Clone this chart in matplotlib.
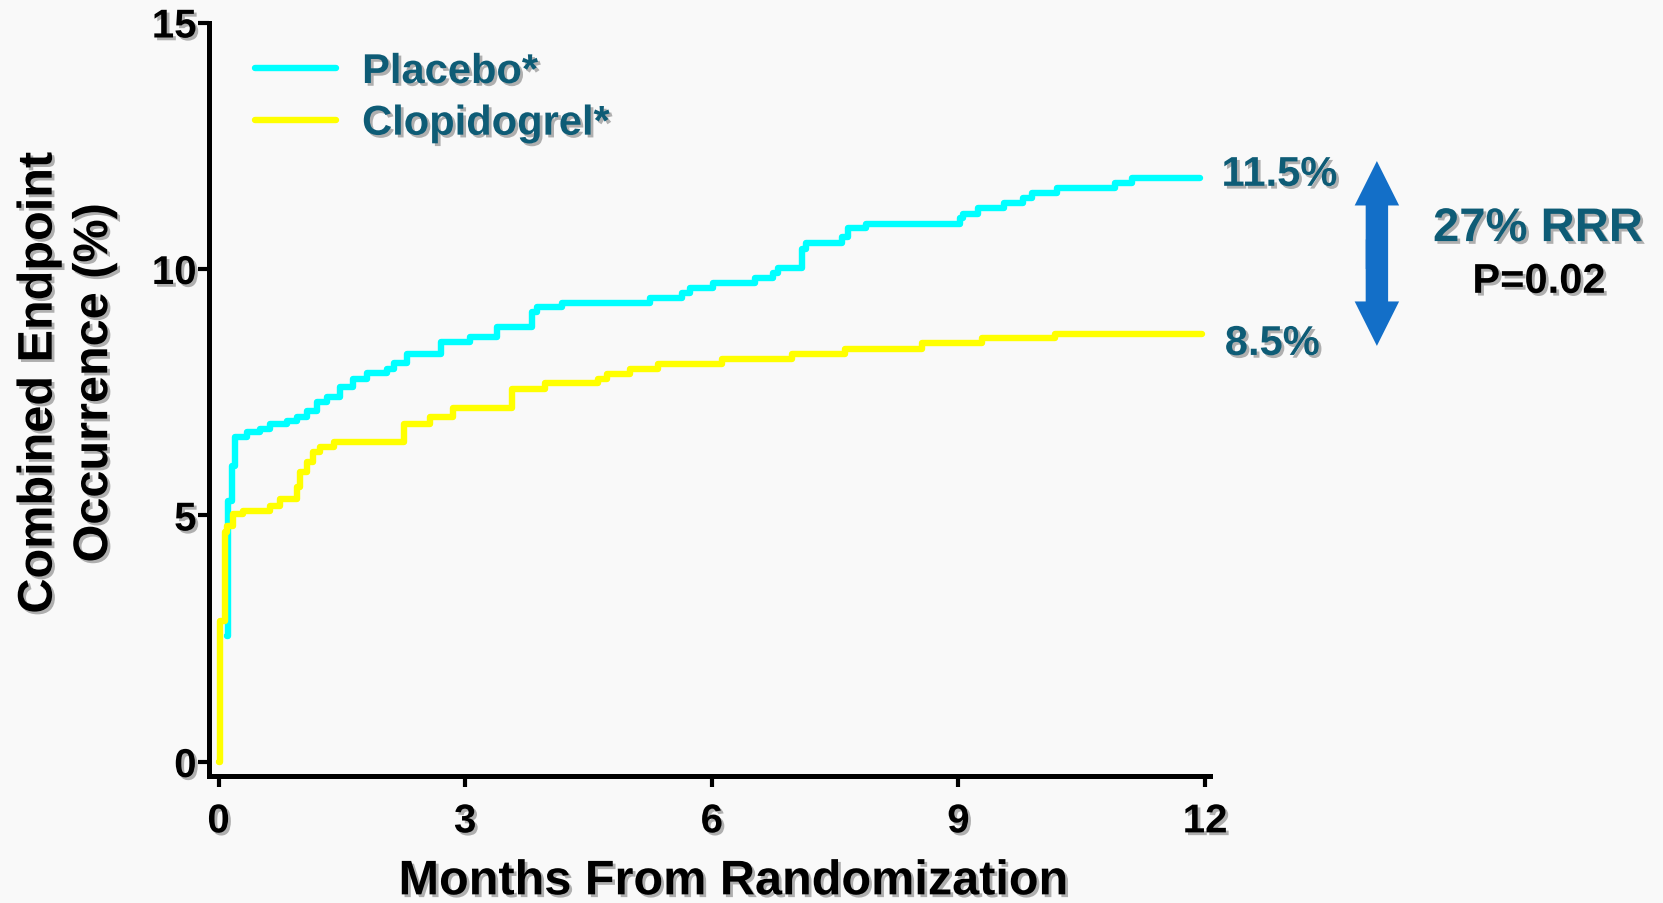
import matplotlib
matplotlib.use("Agg")
import matplotlib.pyplot as plt
import matplotlib.patheffects as pe
from matplotlib.patches import FancyArrowPatch

# Kaplan-Meier style step data (months, % with event)
placebo_t = [0.1, 0.12, 0.16, 0.2, 0.35, 0.5, 0.63, 0.83, 0.95, 1.08, 1.2, 1.32,
             1.48, 1.64, 1.8, 2.05, 2.13, 2.29, 2.71, 3.06, 3.39, 3.81, 3.87,
             4.18, 5.25, 5.64, 5.74, 6.02, 6.53, 6.75, 6.81, 7.1, 7.14, 7.58,
             7.66, 7.87, 9.02, 9.06, 9.24, 9.55, 9.79, 9.9, 10.2, 10.9, 11.11,
             11.94]
placebo_v = [2.56, 5.3, 6.0, 6.59, 6.69, 6.75, 6.86, 6.92, 7.0, 7.12, 7.3, 7.4,
             7.6, 7.77, 7.9, 7.97, 8.1, 8.28, 8.52, 8.62, 8.82, 9.13, 9.23,
             9.31, 9.41, 9.51, 9.61, 9.72, 9.82, 9.92, 10.02, 10.4, 10.53, 10.65,
             10.83, 10.91, 11.03, 11.12, 11.24, 11.34, 11.44, 11.54, 11.64, 11.74,
             11.85, 11.85]

clopi_t = [0, 0.02, 0.08, 0.1, 0.18, 0.3, 0.63, 0.75, 0.95, 0.99, 1.07, 1.15,
           1.23, 1.4, 2.25, 2.57, 2.85, 3.57, 3.97, 4.62, 4.73, 5.0, 5.35, 6.13,
           6.98, 7.62, 8.56, 9.29, 10.18, 11.96]
clopi_v = [0, 2.86, 4.67, 4.79, 5.03, 5.09, 5.19, 5.33, 5.58, 5.88, 6.08, 6.29,
           6.39, 6.49, 6.86, 7.0, 7.18, 7.57, 7.69, 7.77, 7.87, 7.97, 8.07, 8.17,
           8.28, 8.38, 8.50, 8.60, 8.68, 8.68]

series_names = ["Placebo*", "Clopidogrel*"]
end_labels = ["11.5%", "8.5%"]
rrr_text = "27% RRR"
p_text = "P=0.02"
x_ticks = [0, 3, 6, 9, 12]
y_ticks = [0, 5, 10, 15]

teal = "#0e5c76"
arrow_blue = "#136fc8"
shadow = [pe.withSimplePatchShadow(offset=(2, -2), shadow_rgbFace="#555555", alpha=0.45)]

plt.rcParams["font.family"] = ["Liberation Sans", "DejaVu Sans"]
plt.rcParams["font.weight"] = "bold"

fig = plt.figure(figsize=(16.63, 9.04), dpi=100, facecolor="#f9f9f9")
ax = fig.add_axes([0.1257, 0.1405, 0.6019, 0.8335])
ax.set_facecolor("none")

ax.plot(placebo_t, placebo_v, drawstyle="steps-post", color="#00ffff", lw=4.6,
        label=series_names[0], solid_capstyle="round")
ax.plot(clopi_t, clopi_v, drawstyle="steps-post", color="#ffff00", lw=4.6,
        label=series_names[1], solid_capstyle="round")

ax.set_xlim(-0.1156, 12.06)
ax.set_ylim(-0.284, 15.0)
ax.set_xticks(x_ticks)
ax.set_yticks(y_ticks)
for s in ["top", "right"]:
    ax.spines[s].set_visible(False)
for s in ["left", "bottom"]:
    ax.spines[s].set_linewidth(3.6)
ax.tick_params(axis="both", direction="out", length=8, width=3, labelsize=29)
ax.tick_params(axis="y", pad=1)
ax.tick_params(axis="x", pad=11)
for lab in ax.get_xticklabels() + ax.get_yticklabels():
    lab.set_fontweight("bold")
    lab.set_path_effects(shadow)

xl = ax.set_xlabel("Months From Randomization", fontsize=35, fontweight="bold", va="center")
ax.xaxis.set_label_coords(0.5235, -0.1405)
yl = ax.set_ylabel("Combined Endpoint\nOccurrence (%)", fontsize=35, fontweight="bold",
                   va="center", ha="center", linespacing=1.3)
ax.yaxis.set_label_coords(-0.142, 0.5216)
xl.set_path_effects(shadow)
yl.set_path_effects(shadow)

leg = ax.legend(loc="upper left", bbox_to_anchor=(255 / 1663, 1 - 53 / 904),
                bbox_transform=fig.transFigure, frameon=False,
                handlelength=1.95, handletextpad=0.62, labelspacing=0.28,
                borderpad=0, borderaxespad=0, labelcolor=teal,
                prop={"weight": "bold", "size": 30})
for t in leg.get_texts():
    t.set_path_effects(shadow)

# end-of-curve percentages
ax.text(12.2, placebo_v[-1] + 0.06, end_labels[0], color=teal, fontsize=30,
        fontweight="bold", ha="left", va="center", clip_on=False, path_effects=shadow)
ax.text(12.24, clopi_v[-1] - 0.2, end_labels[1], color=teal, fontsize=30,
        fontweight="bold", ha="left", va="center", clip_on=False, path_effects=shadow)

# double-headed arrow between the two end points: a shaft plus two heads
ax.plot([14.09, 14.09], [9.2, 11.4], color=arrow_blue, lw=16,
        solid_capstyle="butt", clip_on=False)
for y_start, y_end in [(10.0, 12.19), (10.6, 8.44)]:
    arr = FancyArrowPatch((14.09, y_start), (14.09, y_end),
                          arrowstyle="simple,head_length=32,head_width=32,tail_width=16",
                          mutation_scale=1, shrinkA=0, shrinkB=0, lw=0,
                          color=arrow_blue, clip_on=False)
    ax.add_patch(arr)

ax.text(16.05, 10.81, rrr_text, color=teal, fontsize=34, fontweight="bold",
        ha="center", va="center", clip_on=False, path_effects=shadow)
ax.text(16.06, 9.74, p_text, color="black", fontsize=30, fontweight="bold",
        ha="center", va="center", clip_on=False, path_effects=shadow)

fig.savefig("out.png", dpi=100, facecolor=fig.get_facecolor())
